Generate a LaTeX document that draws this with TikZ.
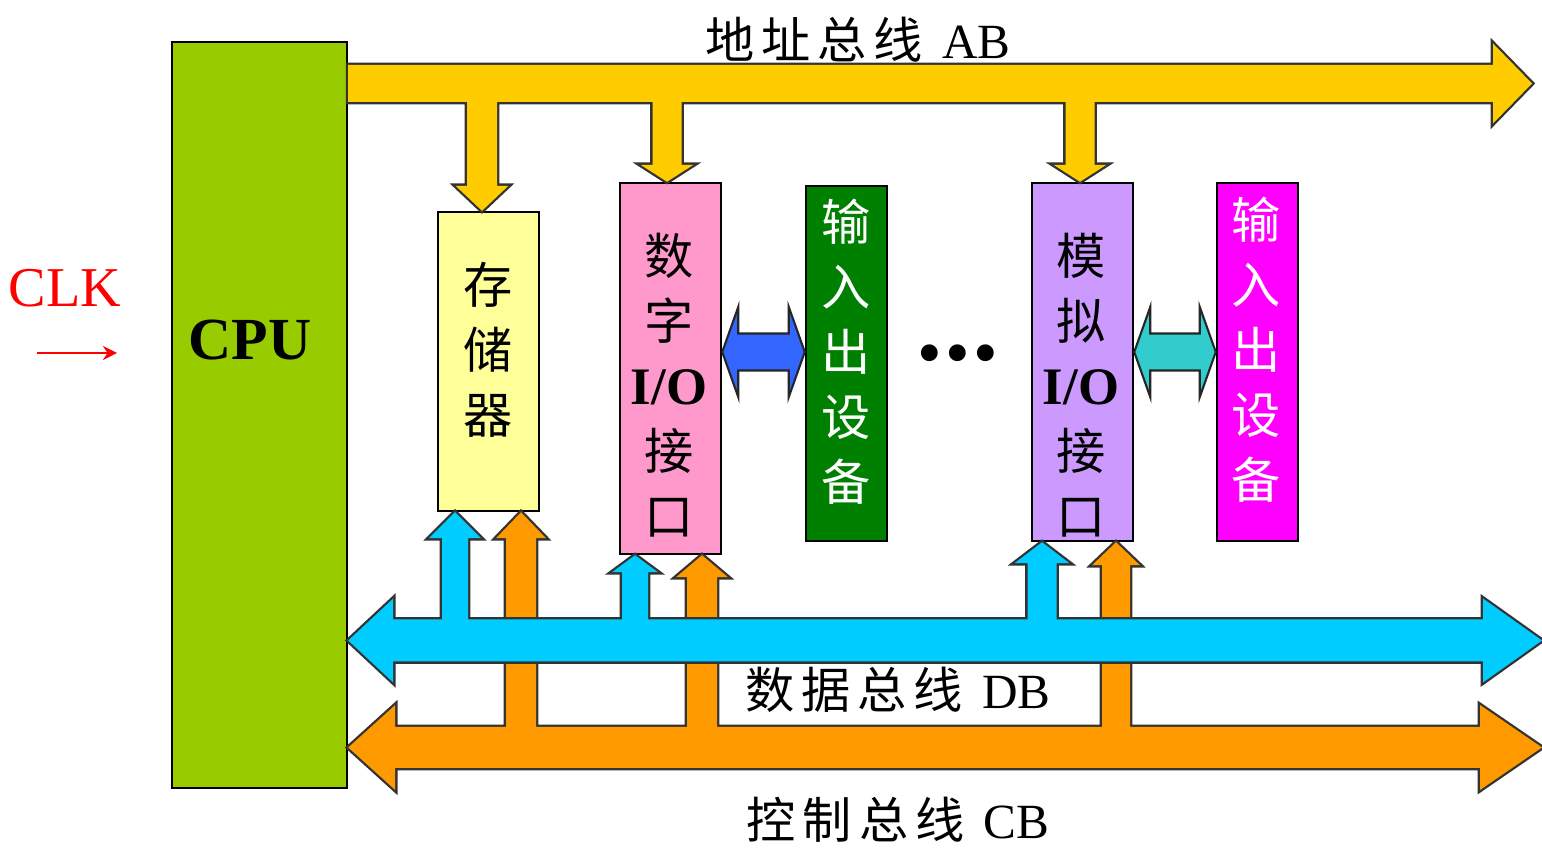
\documentclass[tikz,border=0pt]{standalone}
\usepackage{fontspec}
\setmainfont{Liberation Serif}
\newfontfamily\cjk{Noto Sans CJK SC}
\usepackage{tikz}
\usetikzlibrary{arrows.meta, positioning, calc}
\definecolor{cpugreen}{HTML}{99CC00}
\definecolor{abyellow}{HTML}{FFCC00}
\definecolor{dbcyan}{HTML}{00CCFF}
\definecolor{cborange}{HTML}{FF9900}
\definecolor{memyellow}{HTML}{FFFF99}
\definecolor{digpink}{HTML}{FF99CC}
\definecolor{devgreen}{HTML}{008000}
\definecolor{linkblue}{HTML}{3366FF}
\definecolor{anapurple}{HTML}{CC99FF}
\definecolor{linkteal}{HTML}{33CCCC}
\definecolor{devmagenta}{HTML}{FF00FF}
\newcommand{\iofont}{\rmfamily\bfseries\fontsize{30}{37}\selectfont}

% fat arrows: tail, tip, half shaft, half head, head length (cm)
\newcommand{\fatright}[5]{let \p1=#1, \p2=#2 in
  (\x1,{\y1-#3cm}) -- ({\x2-#5cm},{\y1-#3cm}) -- ({\x2-#5cm},{\y1-#4cm}) -- (\x2,\y1)
  -- ({\x2-#5cm},{\y1+#4cm}) -- ({\x2-#5cm},{\y1+#3cm}) -- (\x1,{\y1+#3cm}) -- cycle}
\newcommand{\fatboth}[6]{let \p1=#1, \p2=#2 in
  (\x1,\y1) -- ({\x1+#5cm},{\y1+#4cm}) -- ({\x1+#5cm},{\y1+#3cm}) -- ({\x2-#6cm},{\y1+#3cm})
  -- ({\x2-#6cm},{\y1+#4cm}) -- (\x2,\y1) -- ({\x2-#6cm},{\y1-#4cm}) -- ({\x2-#6cm},{\y1-#3cm})
  -- ({\x1+#5cm},{\y1-#3cm}) -- ({\x1+#5cm},{\y1-#4cm}) -- cycle}
\newcommand{\fatup}[5]{let \p1=#1, \p2=#2 in
  ({\x1-#3cm},\y1) -- ({\x1-#3cm},{\y2-#5cm}) -- ({\x1-#4cm},{\y2-#5cm}) -- (\x1,\y2)
  -- ({\x1+#4cm},{\y2-#5cm}) -- ({\x1+#3cm},{\y2-#5cm}) -- ({\x1+#3cm},\y1) -- cycle}
\newcommand{\fatdown}[5]{let \p1=#1, \p2=#2 in
  ({\x1-#3cm},\y1) -- ({\x1-#3cm},{\y2+#5cm}) -- ({\x1-#4cm},{\y2+#5cm}) -- (\x1,\y2)
  -- ({\x1+#4cm},{\y2+#5cm}) -- ({\x1+#3cm},{\y2+#5cm}) -- ({\x1+#3cm},\y1) -- cycle}

\begin{document}
\begin{tikzpicture}[
    unit/.style={rectangle, draw=black, line width=1.4pt, fill=#1, inner sep=0pt},
    unittext/.style={font=\cjk\fontsize{28}{37}\selectfont, align=center, inner sep=0pt},
    buslabel/.style={font=\fontsize{28}{30}\selectfont, inner sep=0pt},
    busedge/.style={draw=black!80, line width=2.6pt},
    link/.style={draw=black!85, line width=1.2pt, fill=#1}
]
    \useasboundingbox (0,0) rectangle (30.84,16.98);

    % Units
    \node[unit=cpugreen, minimum width=3.5cm, minimum height=14.92cm] (cpu) at (5.19,8.68) {};
    \node[unit=memyellow, minimum width=2.02cm, minimum height=5.98cm] (mem) at (9.77,9.75) {};
    \node[unit=digpink, minimum width=2.02cm, minimum height=7.42cm] (dig) at (13.41,9.61) {};
    \node[unit=devgreen, minimum width=1.62cm, minimum height=7.1cm] (dev1) at (16.93,9.71) {};
    \node[unit=anapurple, minimum width=2.02cm, minimum height=7.16cm] (ana) at (21.65,9.74) {};
    \node[unit=devmagenta, minimum width=1.62cm, minimum height=7.16cm] (dev2) at (25.15,9.74) {};

    % Bus ends
    \coordinate (ab) at (0,15.31);
    \coordinate (db) at (0,4.17);
    \coordinate (cb) at (0,2.03);
    \coordinate (abend) at (30.64,15.31);
    \coordinate (dbend) at (30.84,4.17);
    \coordinate (cbend) at (30.84,2.03);

    % Control bus CB
    \def\cbpath{\fatboth{(cpu.east |- cb)}{(cbend)}{0.41}{0.85}{0.94}{1.24}
      \fatup{(10.42,0 |- cb)}{(10.42,0 |- mem.south)}{0.3}{0.5}{0.52}
      \fatup{(14.04,0 |- cb)}{(14.04,0 |- dig.south)}{0.3}{0.52}{0.44}
      \fatup{(22.32,0 |- cb)}{(22.32,0 |- ana.south)}{0.28}{0.48}{0.46}}
    \draw[busedge] \cbpath;
    \fill[cborange] \cbpath;

    % Data bus DB
    \def\dbpath{\fatboth{(cpu.east |- db)}{(dbend)}{0.42}{0.84}{0.9}{1.18}
      \fatup{(9.1,0 |- db)}{(9.1,0 |- mem.south)}{0.26}{0.52}{0.52}
      \fatup{(12.7,0 |- db)}{(12.7,0 |- dig.south)}{0.26}{0.46}{0.34}
      \fatup{(20.84,0 |- db)}{(20.84,0 |- ana.south)}{0.29}{0.55}{0.42}}
    \draw[busedge] \dbpath;
    \fill[dbcyan] \dbpath;

    % Address bus AB
    \def\abpath{\fatright{(cpu.east |- ab)}{(abend)}{0.37}{0.8}{0.78}
      \fatdown{(9.64,0 |- ab)}{(9.64,0 |- mem.north)}{0.3}{0.53}{0.5}
      \fatdown{(13.34,0 |- ab)}{(13.34,0 |- dig.north)}{0.29}{0.53}{0.34}
      \fatdown{(21.6,0 |- ab)}{(21.6,0 |- ana.north)}{0.29}{0.53}{0.34}}
    \draw[busedge] \abpath;
    \fill[abyellow] \abpath;

    % Unit texts
    \node[unittext] (memtxt) at (9.76,9.98) {存\\储\\器};
    \node[unittext] (digtxt) at (13.38,9.28) {数\\字\\{\iofont I/O}\\接\\口};
    \node[unittext, text=white] (dev1txt) at (16.92,9.94) {输\\入\\出\\设\\备};
    \node[unittext] (anatxt) at (21.62,9.28) {模\\拟\\{\iofont I/O}\\接\\口};
    \node[unittext, text=white] (dev2txt) at (25.12,9.98) {输\\入\\出\\设\\备};
    \node[font=\bfseries\fontsize{34}{34}\selectfont, inner sep=0pt] (cputxt) at (5.0,10.18) {CPU};
    \node[font=\fontsize{40}{40}\selectfont, inner sep=0pt] (dots) at (19.16,9.76) {•\hspace{2pt}•\hspace{2pt}•};

    % Links to devices
    \coordinate (linky) at (0,9.94);
    \filldraw[link=linkblue] \fatboth{(dig.east |- linky)}{(dev1.west |- linky)}{0.37}{0.9}{0.32}{0.32};
    \filldraw[link=linkteal] \fatboth{(ana.east |- linky)}{(dev2.west |- linky)}{0.37}{0.9}{0.32}{0.32};

    % Bus labels
    \node[buslabel] (ablbl) at (17.16,16.18) {{\cjk 地\hspace{4pt}址\hspace{4pt}总\hspace{4pt}线}\hspace{4pt} AB};
    \node[buslabel] (dblbl) at (17.96,3.18) {{\cjk 数\hspace{4pt}据\hspace{4pt}总\hspace{4pt}线}\hspace{4pt} DB};
    \node[buslabel] (cblbl) at (17.96,0.58) {{\cjk 控\hspace{4pt}制\hspace{4pt}总\hspace{4pt}线}\hspace{4pt} CB};

    % Clock
    \node[text=red, font=\fontsize{32}{32}\selectfont, inner sep=0pt] (clk) at (1.3,11.22) {CLK};
    \coordinate (clkin) at (0.74,9.92);
    \coordinate (clkout) at (2.34,9.92);
    \draw[red, line width=1.6pt, -{Stealth[length=8pt,width=8pt]}] (clkin) -- (clkout);
\end{tikzpicture}
\end{document}
